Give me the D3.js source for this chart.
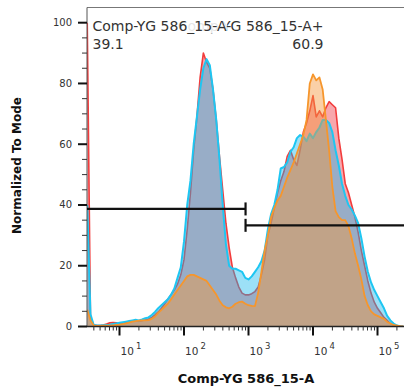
<!DOCTYPE html>
<html><head><meta charset="utf-8">
<script src="https://cdn.jsdelivr.net/npm/d3@7"></script>
<style>body{margin:0;background:#fff} svg{display:block}</style>
</head><body>
<script>
// ---- data ----
const binLog = [0.50,0.55,0.60,0.65,0.70,0.75,0.80,0.85,0.90,0.95,
1.00,1.05,1.10,1.15,1.20,1.25,1.30,1.35,1.40,1.45,
1.50,1.55,1.60,1.65,1.70,1.75,1.80,1.85,1.90,1.95,
2.00,2.05,2.10,2.15,2.20,2.25,2.30,2.35,2.40,2.45,
2.50,2.55,2.60,2.65,2.70,2.75,2.80,2.85,2.90,2.95,
3.00,3.05,3.10,3.15,3.20,3.25,3.30,3.35,3.40,3.45,
3.50,3.55,3.60,3.65,3.70,3.75,3.80,3.85,3.90,3.95,
4.00,4.05,4.10,4.15,4.20,4.25,4.30,4.35,4.40,4.45,
4.50,4.55,4.60,4.65,4.70,4.75,4.80,4.85,4.90,4.95,
5.00,5.05,5.10,5.15,5.20,5.25,5.30,5.35,5.40];
const redVals = [100,3,0.5,0.3,0.3,0.5,0.8,1.2,1.3,1.2,
1.0,1.1,1.3,1.5,1.8,2.0,1.7,1.9,2.2,2.5,
3.0,3.8,4.8,6,7.5,9,10.5,12,14,17,
22,32,44,58,69,82,90,87,85,78,
68,56,45,34,26,19.5,16,13,11,10.4,
10.4,10.8,11.5,13,17,22,30,34,39,44,
48,51,56,58,55,53,58,64,67,71,
76,69,71,69,72,74,73,72,62,55,
47,44,40,36,31,25,20,15,11,8,
6,4.5,3,2,1,0.5,0.2,0.1,0];
const cyanVals = [40,4,0.5,0.3,0.3,0.4,0.5,0.6,0.8,1.0,
1.2,1.4,1.6,1.8,2.0,2.2,2.0,2.3,2.7,3.0,
3.8,4.8,6.0,7.0,8.0,9.0,10.5,12.5,16,19.5,
28,40,48,60,69,78,85,88,86,78,
68,55,40,27,20,19,19,18.5,18,16,
15.5,16.5,18,19.5,21.5,25,32,37,40,45,
52,52.5,54,57.5,59,62,63,62.5,61,63.5,
62,64,65.5,68,68,67,64,58,53,47,
43,40,38.5,36.5,34,29,23,18,14.5,12,
10,8,6,3.5,2,1,0.3,0.1,0];
const orangeVals = [5.5,2,0.3,0.2,0.2,0.3,0.3,0.3,0.4,0.5,
0.6,0.8,1.0,1.3,1.6,1.8,1.9,2.0,2.0,2.1,
2.5,3.3,4.5,5.5,6.5,7.5,9,10.5,12,13.5,
15,16.5,17,17,16.5,16,15.5,15,13.5,12,
10.5,8.5,7,6.3,6,6.5,7.5,8,8.2,7.5,
7,6.8,6.7,11,18,25,30,36,39,41.5,
43,46,49,51.5,54,57,60,63,68,80,
83,81,82,78,68,58,46,38,36,35,
35,33,29,24,20,15.5,10,7,5,4,
3.5,3,2.5,1.5,1,0.5,0.3,0.1,0];
const yTickVals = [0,20,40,60,80,100];
const xTickExps = [1,2,3,4,5];
const gateNames = ["Comp-YG 586_15-A-","Comp-YG 586_15-A+"];
const gatePcts = ["39.1","60.9"];
const gateLevels = [38.7,33.3];
const gateBoundary = 900;
const xDomain = [3.134, 262144];
const yDomain = [0, 105];
const xTitle = "Comp-YG 586_15-A";
const yTitle = "Normalized To Mode";

// ---- chart ----
const W = 404, H = 390;
const P = {l:87, t:7.5, r:404.5, b:326.5};
const svg = d3.select("body").append("svg").attr("width",W).attr("height",H)
  .style("font-family","'DejaVu Sans', sans-serif");
const x = d3.scaleLog().domain(xDomain).range([P.l, P.r]);
const y = d3.scaleLinear().domain(yDomain).range([P.b, P.t]);

svg.append("defs").append("clipPath").attr("id","clip")
  .append("rect").attr("x",P.l).attr("y",P.t-2).attr("width",P.r-P.l+2).attr("height",P.b-P.t+2);

const series = [
  {vals:redVals, fill:"rgba(240,60,70,0.45)", stroke:"#f23c3c", sw:1.6},
  {vals:cyanVals, fill:"rgba(20,180,235,0.42)", stroke:"#1ec6f2", sw:2},
  {vals:orangeVals, fill:"rgba(245,150,60,0.45)", stroke:"#f6962c", sw:1.8}
];
const g = svg.append("g").attr("clip-path","url(#clip)");
series.forEach(s => {
  const pts = binLog.map((b,i)=>[Math.pow(10,b), s.vals[i]]);
  const area = d3.area().x(d=>x(d[0])).y0(y(0)).y1(d=>y(d[1]));
  const line = d3.line().x(d=>x(d[0])).y(d=>y(d[1]));
  g.append("path").attr("d",area(pts)).attr("fill",s.fill);
  g.append("path").attr("d",line(pts)).attr("fill","none").attr("stroke",s.stroke)
    .attr("stroke-width",s.sw).attr("stroke-linejoin","round");
});

// frame
svg.append("line").attr("x1",P.l).attr("x2",W).attr("y1",P.t).attr("y2",P.t).attr("stroke","#777").attr("stroke-width",1);
svg.append("line").attr("x1",P.l).attr("x2",P.l).attr("y1",P.t).attr("y2",P.b).attr("stroke","#555").attr("stroke-width",1);
svg.append("line").attr("x1",P.l).attr("x2",W).attr("y1",P.b).attr("y2",P.b).attr("stroke","#222").attr("stroke-width",1.5);

// y ticks
d3.range(yDomain[0], 101, 5).forEach(v=>{
  const major = v % 20 === 0;
  svg.append("line").attr("x1",major?78:82).attr("x2",P.l).attr("y1",y(v)).attr("y2",y(v))
    .attr("stroke", major?"#111":"#333").attr("stroke-width", major?2:1);
});
svg.selectAll(".ylab").data(yTickVals).enter().append("text")
  .attr("x",72).attr("y",d=>y(d)).attr("dy","0.35em").attr("text-anchor","end")
  .attr("font-size",10).attr("fill","#333").text(d=>d);

// x ticks
xTickExps.forEach(e=>{
  const v = Math.pow(10,e);
  svg.append("line").attr("x1",x(v)).attr("x2",x(v)).attr("y1",P.b).attr("y2",P.b+9)
    .attr("stroke","#111").attr("stroke-width",2);
});
for (let e=0;e<=5;e++){
  for (let k=2;k<=9;k++){
    const v = k*Math.pow(10,e);
    if (v < xDomain[0] || v > xDomain[1]) continue;
    svg.append("line").attr("x1",x(v)).attr("x2",x(v)).attr("y1",P.b).attr("y2",P.b+4)
      .attr("stroke","#333").attr("stroke-width",1);
  }
}
xTickExps.forEach(e=>{
  const t = svg.append("text").attr("x",x(Math.pow(10,e))+1).attr("y",355)
    .attr("font-size",10.5).attr("fill","#333");
  t.append("tspan").text("10");
  t.append("tspan").attr("dx",2).attr("dy",-6).attr("font-size",8.5).text(e);
});

// gates
const gx = x(gateBoundary);
const gateSpans = [[x(xDomain[0]), gx],[gx, W+5]];
gateSpans.forEach((sp,i)=>{
  const gy = y(gateLevels[i]);
  svg.append("line").attr("x1",sp[0]).attr("x2",sp[1]).attr("y1",gy).attr("y2",gy)
    .attr("stroke","#111").attr("stroke-width",2.2);
  svg.append("line").attr("x1",gx).attr("x2",gx).attr("y1",gy-6.5).attr("y2",gy+6.5)
    .attr("stroke","#111").attr("stroke-width",2.2);
});
// gate labels: the "+" label first, then the "-" label on a translucent white box
const fs = 14;
svg.append("text").attr("x",323.5).attr("y",30.7).attr("font-size",fs).attr("fill","#333").attr("text-anchor","end").text(gateNames[1]);
svg.append("text").attr("x",323.5).attr("y",48.7).attr("font-size",fs).attr("fill","#333").attr("text-anchor","end").text(gatePcts[1]);
const lab1 = svg.append("g");
const t1 = lab1.append("text").attr("x",92.5).attr("y",30.7).attr("font-size",fs).attr("fill","#333").text(gateNames[0]);
const bb = t1.node().getBBox();
lab1.insert("rect","text").attr("x",bb.x).attr("y",bb.y).attr("width",bb.width - 4).attr("height",bb.height)
  .attr("fill","#fff").attr("fill-opacity",0.88);
svg.append("text").attr("x",92.5).attr("y",48.7).attr("font-size",fs).attr("fill","#333").text(gatePcts[0]);

// titles
svg.append("text").attr("x",246).attr("y",383).attr("text-anchor","middle")
  .attr("font-size",13).attr("font-weight","bold").attr("fill","#111").text(xTitle);
svg.append("text").attr("transform","translate(21,165.5) rotate(-90)").attr("text-anchor","middle")
  .attr("font-size",12).attr("font-weight","bold").attr("fill","#111").text(yTitle);
</script>
</body></html>
